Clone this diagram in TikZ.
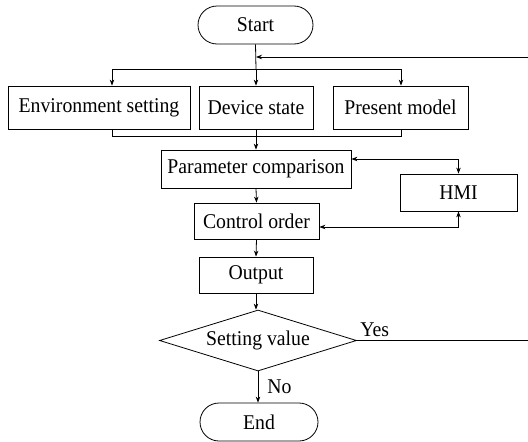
\documentclass[tikz,border=0pt]{standalone}
\usepackage{fontspec}
\setmainfont{Liberation Serif}[FakeStretch=0.94]
\usetikzlibrary{shapes.geometric,arrows.meta}
\begin{document}
\begin{tikzpicture}[x=1pt,y=-1pt,
  font=\fontsize{21}{23}\selectfont,
  line width=0.8pt,
  arr/.style={-{Stealth[length=6pt,width=4.5pt]}},
  darr/.style={{Stealth[length=6pt,width=4.5pt]}-{Stealth[length=6pt,width=4.5pt]}},
  boxnode/.style={draw, rectangle, inner sep=0pt},
  term/.style={draw, rectangle, rounded corners=19pt, inner sep=0pt, minimum height=38pt},
  decide/.style={draw, diamond, inner sep=0pt, aspect=3.2}]
\useasboundingbox (0,0) rectangle (528,442);
% nodes
\node[term, minimum width=115pt] (start) at (255.5,25) {Start};
\node[boxnode, minimum width=182pt, minimum height=43pt] (env) at (99,107.5) {Environment setting};
\node[boxnode, minimum width=114pt, minimum height=43pt] (dev) at (256,107.5) {Device state};
\node[boxnode, minimum width=135pt, minimum height=43pt] (pres) at (400.5,107.5) {Present model};
\node[boxnode, minimum width=190pt, minimum height=38pt] (param) at (256,169) {Parameter comparison};
\node[boxnode, minimum width=117pt, minimum height=37pt] (hmi) at (458.5,192.5) {HMI};
\node[boxnode, minimum width=125pt, minimum height=36pt] (ctrl) at (256.5,221) {Control order};
\node[boxnode, minimum width=114pt, minimum height=36pt] (out) at (256,275) {Output};
\node[decide, minimum width=197pt, minimum height=61pt] (dec) at (258,340.5) {Setting value};
\node[term, minimum width=118pt] (end) at (259,422) {End};
% helper coordinates
\coordinate (loopin) at (528,57);
\coordinate (loopjoin) at (256,57);
\coordinate (br) at (256,69);
\coordinate (brL) at (112,69);
\coordinate (brR) at (401,69);
\coordinate (mg) at (256,136);
\coordinate (mgL) at (112,136);
\coordinate (mgR) at (401,136);
\coordinate (yesend) at (528,340.5);
% connectors
\draw (start.south) -- (br);
\draw[arr] (loopin) -- (loopjoin);
\draw (brL) -- (brR);
\draw[arr] (brL) -- (brL |- env.north);
\draw[arr] (br) -- (dev.north);
\draw[arr] (brR) -- (brR |- pres.north);
\draw (mgL |- env.south) -- (mgL) -- (mgR) -- (mgR |- pres.south);
\draw (dev.south) -- (mg);
\draw[arr] (mg) -- (param.north);
\draw[darr] ([yshift=10pt]param.east) -| (hmi.north);
\draw[darr] ([yshift=-6pt]ctrl.east) -| (hmi.south);
\draw[arr] (param.south) -- (ctrl.north);
\draw[arr] (ctrl.south) -- (out.north);
\draw[arr] (out.south) -- (out.south |- dec.north);
\draw (dec.east) -- (yesend);
\draw[arr] (dec.south) -- (dec.south |- end.north);
\node[anchor=south west, inner sep=0pt] (yes) at (360,337) {Yes};
\node[anchor=west, inner sep=0pt] (no) at (267,387) {No};
\end{tikzpicture}
\end{document}
